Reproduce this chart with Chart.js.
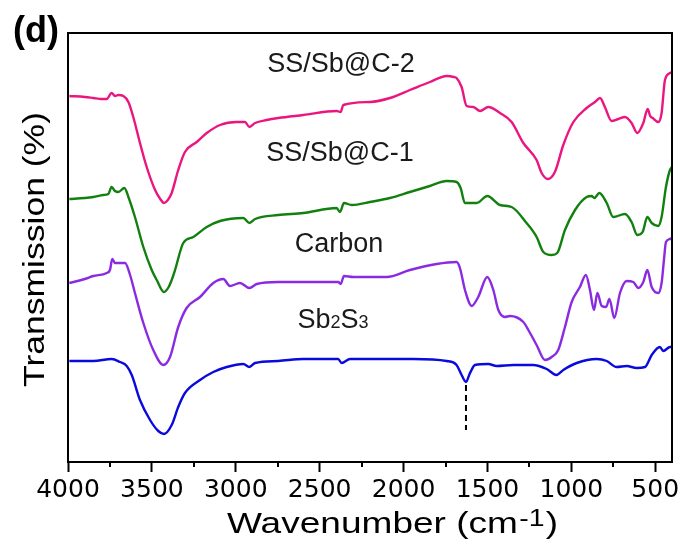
<!DOCTYPE html>
<html>
<head>
<meta charset="utf-8">
<title>FTIR spectra</title>
<script src="https://cdn.jsdelivr.net/npm/chart.js@4.4.1/dist/chart.umd.min.js"></script>
<style>
  html, body { margin: 0; padding: 0; background: #fff; }
  #wrap { width: 686px; height: 545px; }
</style>
</head>
<body>
<div id="wrap"><canvas id="ftirChart" width="686" height="545"></canvas></div>
<script>
// FTIR spectra of the four samples, offset vertically (arbitrary transmission units)

// SS/Sb@C-2
const wnSS2 = [3992, 3900, 3849, 3800, 3769, 3740, 3720, 3700, 3670, 3640, 3611, 3571, 3531, 3481, 3450, 3428, 3405, 3382, 3343, 3303,
    3233, 3173, 3094, 2995, 2945, 2919, 2885, 2816, 2747, 2598, 2399, 2375, 2359, 2200, 2081, 1962, 1843, 1743, 1700, 1684,
    1654, 1624, 1584, 1544, 1495, 1425, 1356, 1286, 1207, 1177, 1141, 1098, 1048, 988, 909, 859, 829, 800, 760, 720,
    680, 641, 607, 571, 545, 530, 515, 482, 462, 442, 412, 400];
const trSS2 = [366, 365, 364, 363, 363, 369, 366, 367, 366, 360, 345, 319, 295, 272, 263, 259, 262, 269, 292, 310,
    320, 329, 337, 340, 340, 335, 339, 342, 344, 347, 351, 350, 357, 360, 364, 372, 380, 386, 385, 384,
    375, 356, 355, 351, 355, 349, 340, 319, 302, 289, 283, 290, 317, 340, 354, 360, 364, 355, 341, 343,
    345, 339, 329, 339, 353, 346, 344, 340, 349, 382, 389, 390];

// SS/Sb@C-1
const wnSS1 = [3992, 3900, 3849, 3790, 3760, 3740, 3720, 3700, 3664, 3640, 3601, 3551, 3501, 3471, 3428, 3400, 3382, 3362, 3313, 3253,
    3173, 3094, 2955, 2919, 2885, 2747, 2598, 2399, 2379, 2355, 2309, 2200, 2081, 1962, 1843, 1743, 1684, 1660, 1634, 1604,
    1564, 1501, 1425, 1356, 1267, 1207, 1167, 1117, 1084, 1038, 978, 909, 879, 863, 833, 789, 750, 680, 641, 607,
    575, 547, 521, 482, 462, 436, 412, 400];
const trSS1 = [263, 264, 265, 267, 268, 275, 271, 270, 274, 265, 245, 215, 192, 182, 170, 175, 182, 192, 219, 225,
    235, 241, 244, 239, 243, 247, 249, 254, 250, 259, 257, 260, 264, 270, 276, 281, 280, 274, 259, 259,
    259, 266, 257, 255, 239, 225, 210, 207, 209, 232, 252, 265, 266, 264, 269, 259, 245, 248, 240, 227,
    230, 245, 239, 236, 245, 275, 292, 295];

// Carbon
const wnCarbon = [3992, 3900, 3849, 3769, 3750, 3736, 3720, 3700, 3660, 3630, 3601, 3551, 3492, 3432, 3392, 3343, 3293, 3213, 3134, 3074,
    3035, 2975, 2919, 2875, 2747, 2598, 2389, 2375, 2355, 2300, 2101, 1962, 1803, 1684, 1664, 1634, 1594, 1555, 1501, 1465,
    1435, 1396, 1366, 1286, 1256, 1207, 1157, 1117, 1078, 1038, 998, 949, 913, 889, 865, 845, 819, 793, 773, 744,
    710, 670, 631, 601, 571, 547, 521, 482, 462, 448, 436, 412, 400];
const trCarbon = [179, 183, 186, 189, 192, 203, 199, 199, 199, 187, 169, 139, 112, 97, 105, 135, 154, 165, 179, 183,
    176, 179, 174, 178, 180, 180, 180, 178, 186, 185, 185, 192, 198, 200, 194, 172, 156, 165, 185, 172,
    152, 145, 146, 140, 132, 117, 102, 105, 112, 135, 160, 175, 187, 172, 152, 169, 156, 155, 163, 144,
    169, 181, 180, 174, 180, 192, 175, 169, 179, 202, 220, 223, 224];

// Sb2S3
const wnSb2S3 = [3992, 3849, 3740, 3690, 3650, 3620, 3571, 3511, 3462, 3428, 3382, 3343, 3303, 3213, 3134, 3054, 2955, 2919, 2885, 2747,
    2598, 2390, 2369, 2319, 1942, 1743, 1684, 1654, 1628, 1604, 1574, 1495, 1445, 1346, 1227, 1147, 1088, 1048, 968, 849,
    789, 730, 670, 611, 561, 521, 472, 452, 412, 400];
const trSb2S3 = [101, 101, 103, 100, 96, 87, 62, 42, 31, 28, 37, 55, 69, 82, 90, 95, 98, 95, 99, 101,
    103, 103, 99, 103, 103, 101, 97, 87, 80, 89, 97, 98, 96, 97, 97, 93, 87, 92, 99, 103,
    101, 95, 96, 94, 95, 107, 115, 111, 115, 115];

// dashed guide under the 1628 cm-1 band of Sb2S3
const markerWn = [1628, 1628];
const markerTr = [77, 32];

const xTickValues = [4000, 3500, 3000, 2500, 2000, 1500, 1000, 500];
const xMinorValues = [3750, 3250, 2750, 2250, 1750, 1250, 750];

// curve labels: text, anchor wavenumber (centre), anchor value (baseline)
const labelTexts = ['SS/Sb@C-2', 'SS/Sb@C-1', 'Carbon'];
const labelWn = [2373, 2379, 2385];
const labelTr = [390, 301, 210];
const sb2s3LabelWn = 2421;
const sb2s3LabelTr = 134;

const seriesColors = ['#EB1580', '#12800F', '#8A2BE2', '#0A0ADC'];

function toPoints(xs, ys) {
    return xs.map((x, i) => ({ x: x, y: ys[i] }));
}

Chart.defaults.font.family = "'Liberation Sans', Arial, sans-serif";
Chart.defaults.color = '#000';

// frame, minor ticks, titles and curve labels
const decorPlugin = {
    id: 'decor',
    afterDraw(chart) {
        const ctx = chart.ctx;
        const area = chart.chartArea;
        const xs = chart.scales.x;
        const ys = chart.scales.y;

        ctx.save();
        // box around the plot
        ctx.strokeStyle = '#000';
        ctx.lineWidth = 2;
        ctx.strokeRect(area.left, area.top, area.right - area.left, area.bottom - area.top);

        // minor ticks
        xMinorValues.forEach(v => {
            const px = Math.round(xs.getPixelForValue(v));
            ctx.beginPath();
            ctx.moveTo(px, area.bottom);
            ctx.lineTo(px, area.bottom + 5);
            ctx.stroke();
        });

        ctx.fillStyle = '#000';
        ctx.textBaseline = 'alphabetic';

        // panel letter
        ctx.font = "bold 36px 'Liberation Sans', Arial, sans-serif";
        ctx.textAlign = 'left';
        ctx.fillText('(d)', 13, 42);

        // x title with superscript, stretched a little like the original
        const mainFont = "30px 'Liberation Sans', Arial, sans-serif";
        const supFont = "23px 'Liberation Sans', Arial, sans-serif";
        ctx.font = mainFont;
        const w1 = ctx.measureText('Wavenumber (cm').width;
        const w3 = ctx.measureText(')').width;
        ctx.font = supFont;
        const w2 = ctx.measureText('-1').width;
        const sx = 331 / (w1 + w2 + w3 + 2);
        ctx.save();
        ctx.translate(227, 533);
        ctx.scale(sx, 1);
        ctx.font = mainFont;
        ctx.fillText('Wavenumber (cm', 0, 0);
        ctx.font = supFont;
        ctx.fillText('-1', w1 + 1, -7);
        ctx.font = mainFont;
        ctx.fillText(')', w1 + w2 + 2, 0);
        ctx.restore();

        // y title
        ctx.font = mainFont;
        const wy = ctx.measureText('Transmission (%)').width;
        ctx.save();
        ctx.translate(44, 387);
        ctx.rotate(-Math.PI / 2);
        ctx.scale(275 / wy, 1);
        ctx.fillText('Transmission (%)', 0, 0);
        ctx.restore();

        // curve labels
        ctx.fillStyle = '#1a1a1a';
        ctx.font = "27px 'Liberation Sans', Arial, sans-serif";
        ctx.textAlign = 'center';
        labelTexts.forEach((t, i) => {
            ctx.fillText(t, xs.getPixelForValue(labelWn[i]), ys.getPixelForValue(labelTr[i]));
        });

        // Sb2S3 with subscripts
        const big = "27px 'Liberation Sans', Arial, sans-serif";
        const small = "18px 'Liberation Sans', Arial, sans-serif";
        const parts = [['Sb', big], ['2', small], ['S', big], ['3', small]];
        let total = 0;
        parts.forEach(p => { ctx.font = p[1]; total += ctx.measureText(p[0]).width; });
        let cx = xs.getPixelForValue(sb2s3LabelWn) - total / 2;
        const by = ys.getPixelForValue(sb2s3LabelTr);
        ctx.textAlign = 'left';
        parts.forEach(p => {
            ctx.font = p[1];
            ctx.fillText(p[0], cx, by);
            cx += ctx.measureText(p[0]).width;
        });
        ctx.restore();
    }
};

const lineStyle = {
    borderWidth: 2.4,
    pointRadius: 0,
    fill: false,
    cubicInterpolationMode: 'monotone'
};

const ftirChart = new Chart(document.getElementById('ftirChart').getContext('2d'), {
    type: 'line',
    data: {
        datasets: [
            Object.assign({ label: 'SS/Sb@C-2', data: toPoints(wnSS2, trSS2), borderColor: seriesColors[0] }, lineStyle),
            Object.assign({ label: 'SS/Sb@C-1', data: toPoints(wnSS1, trSS1), borderColor: seriesColors[1] }, lineStyle),
            Object.assign({ label: 'Carbon', data: toPoints(wnCarbon, trCarbon), borderColor: seriesColors[2] }, lineStyle),
            Object.assign({ label: 'Sb2S3', data: toPoints(wnSb2S3, trSb2S3), borderColor: seriesColors[3] }, lineStyle),
            {
                label: 'marker',
                data: toPoints(markerWn, markerTr),
                borderColor: '#000',
                borderWidth: 2,
                borderDash: [6, 4],
                pointRadius: 0
            }
        ]
    },
    options: {
        responsive: false,
        animation: false,
        devicePixelRatio: 1,
        layout: {
            padding: { top: 33, right: 14, bottom: 0, left: 0 }
        },
        plugins: {
            legend: { display: false },
            tooltip: { enabled: false },
            title: { display: false }
        },
        scales: {
            x: {
                type: 'linear',
                reverse: true,
                min: 400,
                max: 4000,
                afterFit: s => { s.height = 83; },
                afterBuildTicks: s => { s.ticks = xTickValues.map(v => ({ value: v })); },
                grid: {
                    drawOnChartArea: false,
                    tickLength: 10,
                    tickWidth: 2,
                    tickColor: '#000'
                },
                border: { display: true, color: '#000', width: 2 },
                ticks: {
                    autoSkip: false,
                    maxRotation: 0,
                    padding: 3,
                    color: '#000',
                    font: { family: "'DejaVu Sans', sans-serif", size: 25 },
                    callback: v => String(v)
                }
            },
            y: {
                min: 0,
                max: 429,
                afterFit: s => { s.width = 68; },
                grid: { display: false },
                border: { display: true, color: '#000', width: 2 },
                ticks: { display: false }
            }
        }
    },
    plugins: [decorPlugin]
});
</script>
</body>
</html>
